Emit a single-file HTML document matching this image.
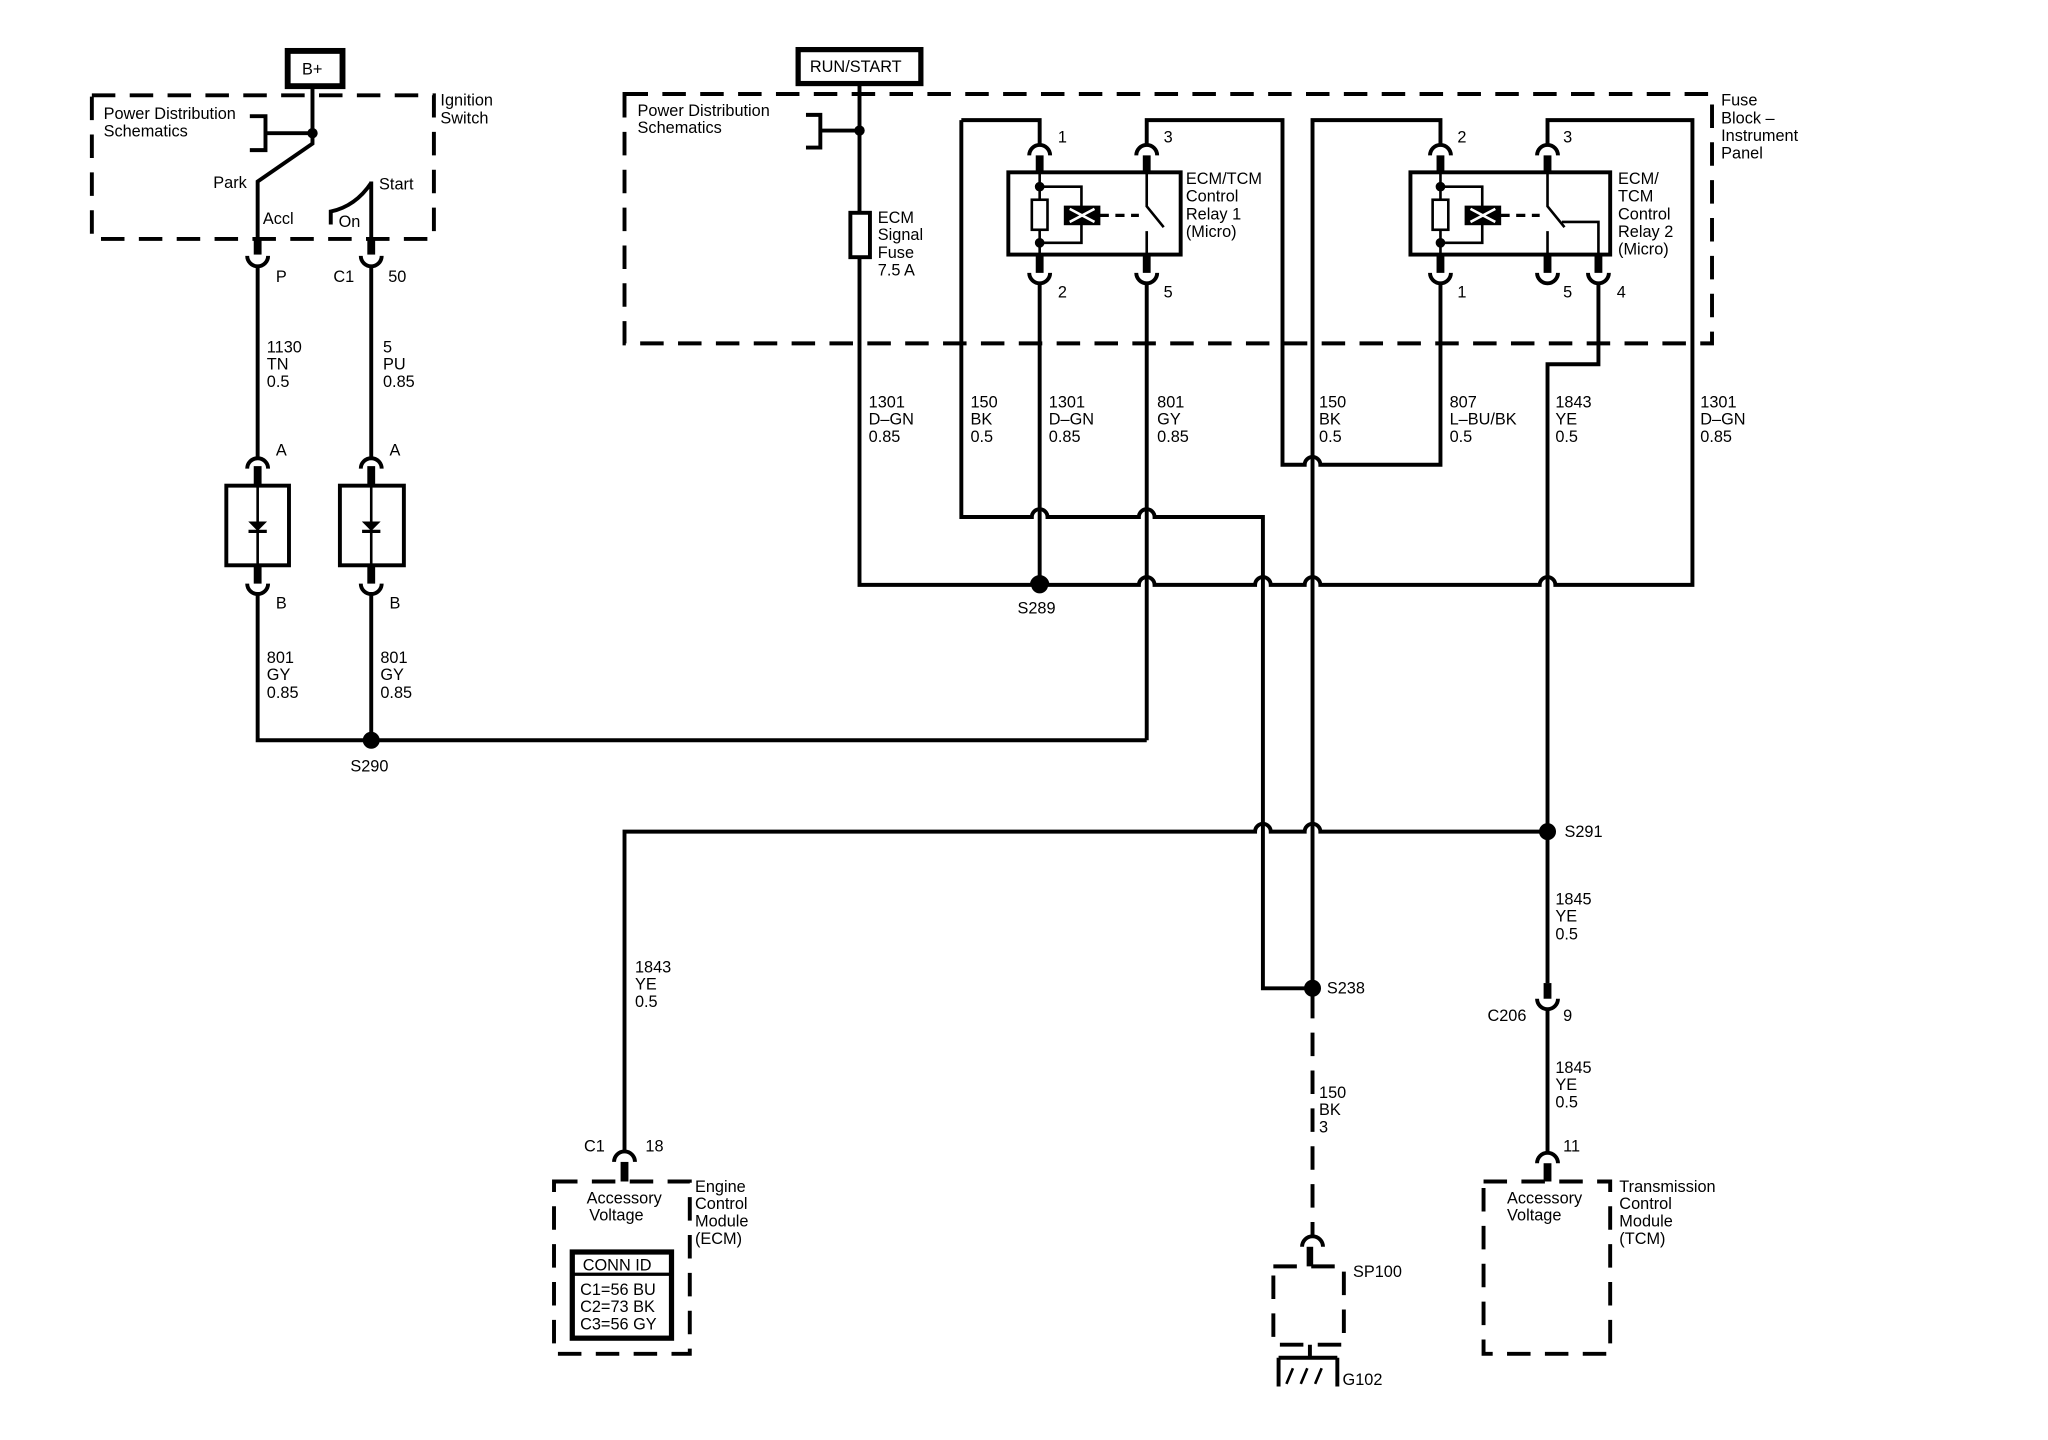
<!DOCTYPE html>
<html><head><meta charset="utf-8"><style>
html,body{margin:0;padding:0;background:#fff;}
svg{display:block;}
text{font-family:"Liberation Sans",Arial,sans-serif;font-size:12.5px;fill:#000;stroke:none;}
</style></head><body>
<svg width="2048" height="1440" viewBox="0 0 1568 1103" xmlns="http://www.w3.org/2000/svg">
<rect x="0" y="0" width="1568" height="1103" fill="#fff"/>
<g fill="none" stroke="#000" stroke-width="3">
<!-- dashed boxes -->
<g stroke-dasharray="18 11">
<rect x="70" y="73" width="262" height="110"/>
<rect x="478" y="72" width="833" height="191"/>
<rect x="424" y="905" width="104" height="132"/>
<rect x="1136" y="905" width="97" height="132"/>
<rect x="975" y="970" width="54" height="60"/>
<line x1="1005" y1="762" x2="1005" y2="947"/>
</g>
<!-- B+ -->
<rect x="220" y="39" width="42" height="27" stroke-width="4.5"/>
<rect x="611" y="38" width="94" height="26" stroke-width="4"/>
<!-- ignition switch -->
<path d="M239 66 V110 L197 139 V183"/>
<path d="M191 89 H203 V115 H191 M203 102 H239"/>
<path d="M284 139 V183 M284 140 Q272 158 253 162 V172"/>
<circle cx="239" cy="102" r="2.5" fill="#000"/>
<!-- left connectors P / 50 -->
<g stroke-width="6"><line x1="197" y1="183" x2="197" y2="195"/><line x1="284" y1="183" x2="284" y2="195"/></g>
<path d="M189 196 A8 8 0 0 0 205 196 M276 196 A8 8 0 0 0 292 196"/>
<path d="M197 204 V351 M284 204 V351"/>
<!-- diodes -->
<path d="M189 359 A8 8 0 0 1 205 359 M276 359 A8 8 0 0 1 292 359"/>
<path d="M189 447 A8 8 0 0 0 205 447 M276 447 A8 8 0 0 0 292 447"/>
<g stroke-width="6"><path d="M197 357 V372 M197 433 V447 M284 357 V372 M284 433 V447"/></g>
<rect x="173" y="372" width="48" height="61"/>
<rect x="260" y="372" width="49" height="61"/>
<path d="M197 372 V433 M284 372 V433" stroke-width="2"/>
<path d="M190 407 H204 M277 407 H291" stroke-width="2.5"/>
<polygon points="191,400 203,400 197,406" fill="#000" stroke-width="1"/>
<polygon points="278,400 290,400 284,406" fill="#000" stroke-width="1"/>
<path d="M197 455 V567 H878 M284 455 V567"/>
<circle cx="284" cy="567" r="5" fill="#000"/>
<!-- RUN/START feed & fuse -->
<path d="M658 64 V448 H790 A6 6 0 0 1 802 448 H872 A6 6 0 0 1 884 448 H961 A6 6 0 0 1 973 448 H999 A6 6 0 0 1 1011 448 H1179 A6 6 0 0 1 1191 448 H1296 V92 H1185 V111"/>
<path d="M617 88 H628 V113 H617 M628 100 H658"/>
<circle cx="658" cy="100" r="2.5" fill="#000"/>
<rect x="651" y="163" width="15" height="34" fill="#fff"/>
<!-- relay 1 wiring -->
<path d="M736 92 V396 H790 A6 6 0 0 1 802 396 H872 A6 6 0 0 1 884 396 H967 V757 H1005"/>
<path d="M736 92 H796 V111"/>
<path d="M878 111 V92 H982 V356 H999 A6 6 0 0 1 1011 356 H1103 V217"/>
<path d="M1103 111 V92 H1005 V757"/>
<path d="M796 217 V448 M878 217 V567"/>
<circle cx="796" cy="448" r="5" fill="#000"/>
<circle cx="1005" cy="757" r="5" fill="#000"/>
<!-- pin4 / TCM feed -->
<path d="M1224 217 V279 H1185 V753"/>
<path d="M478 882 V637 H961 A6 6 0 0 1 973 637 H999 A6 6 0 0 1 1011 637 H1185" stroke-width="3"/>
<circle cx="1185" cy="637" r="5" fill="#000"/>
<!-- relays -->
<g id="relay1">
<path d="M788 119 A8 8 0 0 1 804 119 M870 119 A8 8 0 0 1 886 119"/>
<path d="M788 209 A8 8 0 0 0 804 209 M870 209 A8 8 0 0 0 886 209"/>
<g stroke-width="6"><path d="M796 119 V132 M878 119 V132 M796 195 V209 M878 195 V209"/></g>
<rect x="772" y="132" width="132" height="63"/>
<path d="M796 132 V195 M796 143 H828 V186 H796" stroke-width="2"/>
<rect x="790" y="153" width="12" height="23" fill="#fff" stroke-width="2"/>
<circle cx="796" cy="143" r="2.2" fill="#000"/>
<circle cx="796" cy="186" r="2.2" fill="#000"/>
<rect x="815" y="158" width="27" height="14" fill="#000" stroke-width="1"/>
<path d="M819 160 L838 170 M819 170 L838 160" stroke="#fff" stroke-width="2"/>
<path d="M842 165 H872" stroke-dasharray="7 5" stroke-width="2.5"/>
<path d="M878 132 V158 L891 174 M878 177 V195" stroke-width="2"/>
</g>
<g id="relay2">
<path d="M1095 119 A8 8 0 0 1 1111 119 M1177 119 A8 8 0 0 1 1193 119"/>
<path d="M1095 209 A8 8 0 0 0 1111 209 M1177 209 A8 8 0 0 0 1193 209 M1216 209 A8 8 0 0 0 1232 209"/>
<g stroke-width="6"><path d="M1103 119 V132 M1185 119 V132 M1103 195 V209 M1185 195 V209 M1224 195 V209"/></g>
<rect x="1080" y="132" width="153" height="63"/>
<path d="M1103 132 V195 M1103 143 H1135 V186 H1103" stroke-width="2"/>
<rect x="1097" y="153" width="12" height="23" fill="#fff" stroke-width="2"/>
<circle cx="1103" cy="143" r="2.2" fill="#000"/>
<circle cx="1103" cy="186" r="2.2" fill="#000"/>
<rect x="1122" y="158" width="27" height="14" fill="#000" stroke-width="1"/>
<path d="M1126 160 L1145 170 M1126 170 L1145 160" stroke="#fff" stroke-width="2"/>
<path d="M1149 165 H1179" stroke-dasharray="7 5" stroke-width="2.5"/>
<path d="M1185 132 V158 L1198 174 M1185 177 V195 M1196 170 H1224 V195" stroke-width="2"/>
</g>
<!-- C206 -->
<path d="M1185 753 V765" stroke-width="6"/>
<path d="M1177 765 A8 8 0 0 0 1193 765"/>
<path d="M1185 773 V883"/>
<!-- TCM connector 11 -->
<path d="M1177 891 A8 8 0 0 1 1193 891"/>
<path d="M1185 891 V905" stroke-width="6"/>
<!-- ECM connector -->
<path d="M470 890 A8 8 0 0 1 486 890"/>
<path d="M478 890 V905" stroke-width="6"/>
<rect x="438" y="959" width="76" height="66" stroke-width="4"/>
<line x1="438" y1="976" x2="514" y2="976" stroke-width="2.5"/>
<!-- SP100 / ground -->
<path d="M997 955 A8 8 0 0 1 1013 955"/>
<path d="M1003 955 V970" stroke-width="5"/>
<path d="M1003 1030 V1040 M979 1040 H1024 M979 1040 V1062 M1024 1040 V1062" stroke-width="3"/>
<path d="M985 1060 L990 1048 M996 1060 L1001 1048 M1007 1060 L1012 1048" stroke-width="2"/>
</g>
<!-- text -->
<text x="231" y="57">B+</text>
<text x="620" y="55">RUN/START</text>
<text x="79" y="91">Power Distribution</text><text x="79" y="104.5">Schematics</text>
<text x="337" y="81">Ignition</text><text x="337" y="94.5">Switch</text>
<text x="163" y="144">Park</text><text x="290" y="145">Start</text>
<text x="201" y="171.5">Accl</text><text x="259" y="174">On</text>
<text x="211" y="216">P</text><text x="255" y="216">C1</text><text x="297" y="216">50</text>
<text x="204" y="270">1130</text><text x="204" y="283">TN</text><text x="204" y="296.5">0.5</text>
<text x="293" y="270">5</text><text x="293" y="283">PU</text><text x="293" y="296.5">0.85</text>
<text x="211" y="349">A</text><text x="298" y="349">A</text>
<text x="211" y="466">B</text><text x="298" y="466">B</text>
<text x="204" y="508">801</text><text x="204" y="521">GY</text><text x="204" y="534.5">0.85</text>
<text x="291" y="508">801</text><text x="291" y="521">GY</text><text x="291" y="534.5">0.85</text>
<text x="268" y="591">S290</text>
<text x="488" y="89">Power Distribution</text><text x="488" y="102">Schematics</text>
<text x="672" y="171">ECM</text><text x="672" y="184">Signal</text><text x="672" y="197.5">Fuse</text><text x="672" y="211">7.5 A</text>
<text x="810" y="109">1</text><text x="891" y="109">3</text><text x="810" y="228">2</text><text x="891" y="228">5</text>
<text x="908" y="141">ECM/TCM</text><text x="908" y="154.5">Control</text><text x="908" y="168">Relay 1</text><text x="908" y="181.5">(Micro)</text>
<text x="1116" y="109">2</text><text x="1197" y="109">3</text><text x="1116" y="228">1</text><text x="1197" y="228">5</text><text x="1238" y="228">4</text>
<text x="1239" y="141">ECM/</text><text x="1239" y="154.5">TCM</text><text x="1239" y="168">Control</text><text x="1239" y="181.5">Relay 2</text><text x="1239" y="195">(Micro)</text>
<text x="1318" y="81">Fuse</text><text x="1318" y="94.5">Block –</text><text x="1318" y="108">Instrument</text><text x="1318" y="121.5">Panel</text>
<g>
<text x="665" y="312">1301</text><text x="665" y="325">D–GN</text><text x="665" y="338.5">0.85</text>
<text x="743" y="312">150</text><text x="743" y="325">BK</text><text x="743" y="338.5">0.5</text>
<text x="803" y="312">1301</text><text x="803" y="325">D–GN</text><text x="803" y="338.5">0.85</text>
<text x="886" y="312">801</text><text x="886" y="325">GY</text><text x="886" y="338.5">0.85</text>
<text x="1010" y="312">150</text><text x="1010" y="325">BK</text><text x="1010" y="338.5">0.5</text>
<text x="1110" y="312">807</text><text x="1110" y="325">L–BU/BK</text><text x="1110" y="338.5">0.5</text>
<text x="1191" y="312">1843</text><text x="1191" y="325">YE</text><text x="1191" y="338.5">0.5</text>
<text x="1302" y="312">1301</text><text x="1302" y="325">D–GN</text><text x="1302" y="338.5">0.85</text>
</g>
<text x="779" y="470">S289</text>
<text x="1198" y="641">S291</text>
<text x="1016" y="761">S238</text>
<text x="1191" y="693">1845</text><text x="1191" y="706">YE</text><text x="1191" y="719.5">0.5</text>
<text x="1139" y="782">C206</text><text x="1197" y="782">9</text>
<text x="1191" y="822">1845</text><text x="1191" y="835">YE</text><text x="1191" y="848.5">0.5</text>
<text x="1197" y="882">11</text>
<text x="1154" y="922">Accessory</text><text x="1154" y="935">Voltage</text>
<text x="1240" y="913">Transmission</text><text x="1240" y="926">Control</text><text x="1240" y="939.5">Module</text><text x="1240" y="953">(TCM)</text>
<text x="486" y="745">1843</text><text x="486" y="758">YE</text><text x="486" y="771.5">0.5</text>
<text x="447" y="882">C1</text><text x="494" y="882">18</text>
<text x="449" y="922">Accessory</text><text x="451" y="935">Voltage</text>
<text x="532" y="913">Engine</text><text x="532" y="926">Control</text><text x="532" y="939.5">Module</text><text x="532" y="953">(ECM)</text>
<text x="446" y="973">CONN ID</text>
<text x="444" y="992">C1=56 BU</text><text x="444" y="1005">C2=73 BK</text><text x="444" y="1018.5">C3=56 GY</text>
<text x="1010" y="841">150</text><text x="1010" y="854">BK</text><text x="1010" y="867.5">3</text>
<text x="1036" y="978">SP100</text>
<text x="1028" y="1061">G102</text>
</svg>
</body></html>
